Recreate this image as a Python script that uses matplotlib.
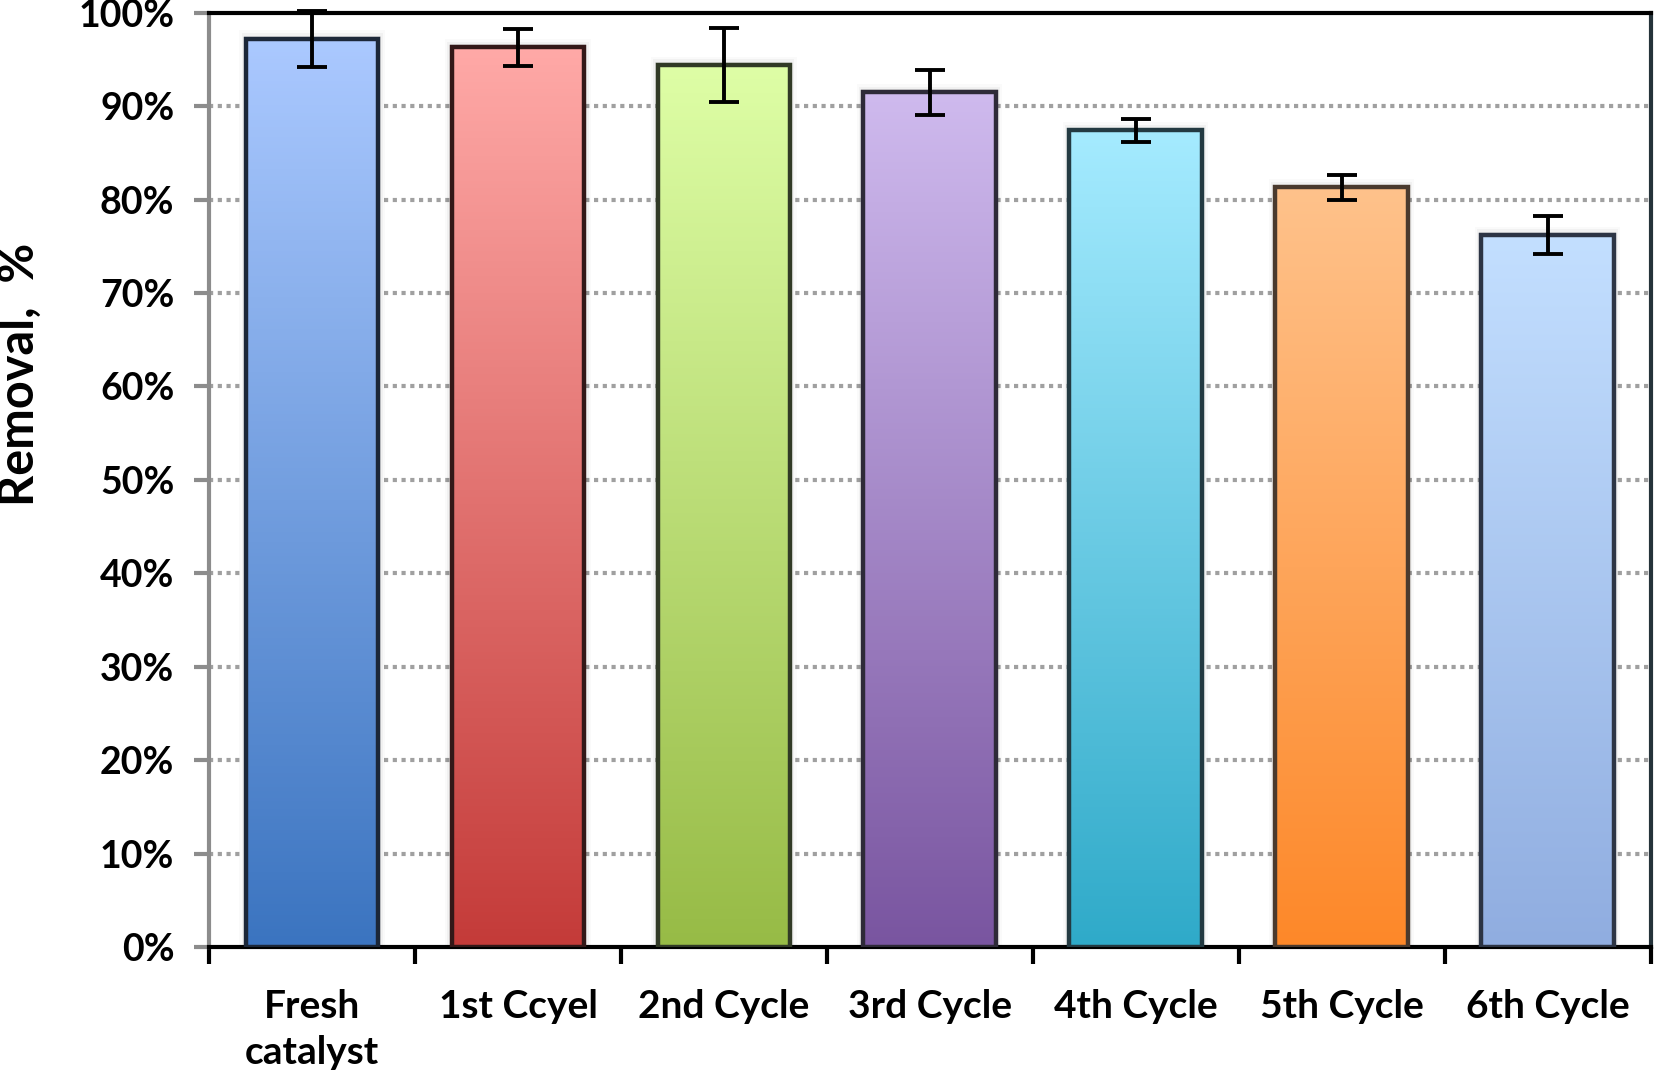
import numpy as np
import matplotlib.pyplot as plt
import matplotlib.colors as mcolors

# data
categories = ["Fresh\ncatalyst", "1st Ccyel", "2nd Cycle", "3rd Cycle", "4th Cycle", "5th Cycle", "6th Cycle"]
removal = [97.2, 96.3, 94.4, 91.5, 87.4, 81.3, 76.2]
errors = [3.0, 2.0, 4.0, 2.4, 1.2, 1.3, 2.0]
yticks = [0, 10, 20, 30, 40, 50, 60, 70, 80, 90, 100]

top_colors = ["#abc9ff", "#ffa9a7", "#defea6", "#cfbaee", "#a5ebff", "#ffc28b", "#c3dfff"]
bottom_colors = ["#3b74c0", "#c43b39", "#97bb46", "#7955a0", "#2faac9", "#fd8829", "#90ade0"]
edge_colors = ["#1c2738", "#331818", "#313a26", "#2e2a38", "#233a42", "#4a3a2e", "#2c3444"]

plt.rcParams['font.family'] = ['Lato', 'DejaVu Sans']
plt.rcParams['font.weight'] = 'bold'

fig = plt.figure(figsize=(16.54, 10.79), dpi=100)
ax = fig.add_axes([0.1264, 0.1223, 0.8716, 0.8659])

x = np.arange(len(categories))
bars = ax.bar(x, removal, width=0.645, color="none", edgecolor=edge_colors,
              linewidth=3.2, zorder=4)

# vertical gradient in each bar
for b, c1, c2 in zip(bars, top_colors, bottom_colors):
    cmap = mcolors.LinearSegmentedColormap.from_list("g", [c2, c1])
    grad = np.linspace(0, 1, 256).reshape(-1, 1)
    x0, w, h = b.get_x(), b.get_width(), b.get_height()
    im = ax.imshow(grad, cmap=cmap, aspect="auto", origin="lower",
                   extent=[x0, x0 + w, 0, h], zorder=3)
    im.set_clip_path(b)
    # soft shadow
    for k, a in enumerate([0.05, 0.035, 0.02]):
        ax.bar(b.get_x() + w / 2, h + 0.3 * (k + 1), width=w + 0.02 * (k + 1),
               color="black", alpha=a, linewidth=0, zorder=2)

ax.errorbar(x, removal, yerr=errors, fmt="none", ecolor="black", elinewidth=2.8,
            capsize=11, capthick=2.8, zorder=6, clip_on=False)

ax.set_xlim(-0.5, len(categories) - 0.5)
ax.set_ylim(0, 100)
ax.set_yticks(yticks)
ax.set_yticklabels([f"{v}%" for v in yticks], fontsize=27, fontweight="bold")
ax.set_xticks(x)
ax.set_xticklabels(categories, fontsize=28, fontweight="bold", linespacing=1.38)
ax.tick_params(axis="x", length=0, pad=30)
ax.set_xticks(np.arange(len(categories) + 1) - 0.5, minor=True)
ax.tick_params(axis="x", which="minor", length=12, width=3, color="black", direction="out")
ax.tick_params(axis="y", length=11, width=3, color="#8c8c8c", pad=14)

for v in yticks[1:-1]:
    ax.axhline(v, color="#a0a0a0", linewidth=3, linestyle=(0, (1, 1.1)), zorder=1)

for s in ["top", "bottom"]:
    ax.spines[s].set_color("black")
    ax.spines[s].set_linewidth(3)
ax.spines["left"].set_color("#8c8c8c")
ax.spines["left"].set_linewidth(3)
ax.spines["right"].set_color("#25333a")
ax.spines["right"].set_linewidth(3)

ax.set_ylabel("Removal,  %", fontsize=35, fontweight="bold")
ax.yaxis.set_label_coords(-0.116, 0.613)

fig.savefig("out.png", dpi=100)
